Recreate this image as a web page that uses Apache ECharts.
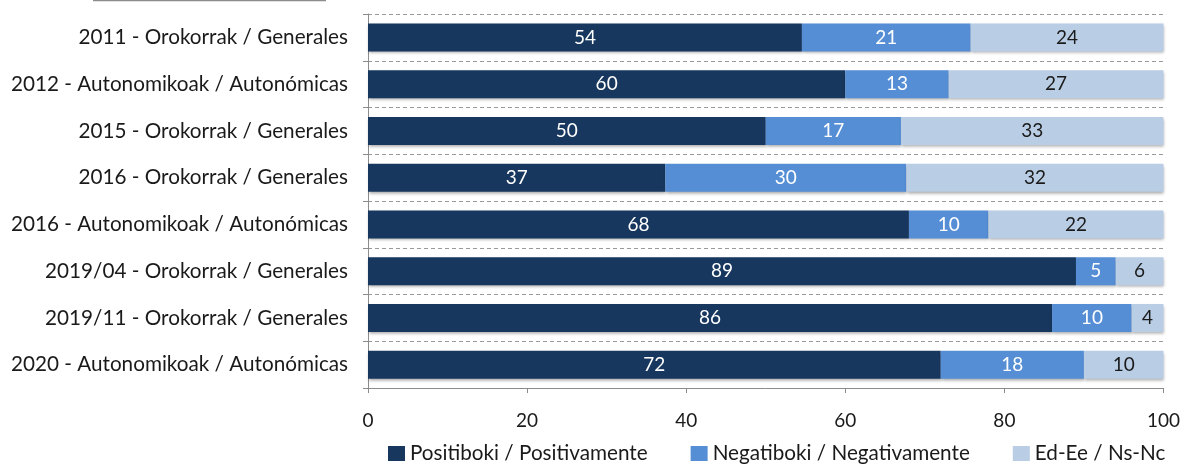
<!DOCTYPE html>
<html>
<head>
<meta charset="utf-8">
<script src="https://cdn.jsdelivr.net/npm/echarts@6/dist/echarts.min.js"></script>
<style>
html,body{margin:0;padding:0;background:#fff;}
#chart{width:1183px;height:469px;}
</style>
</head>
<body>
<div id="chart"></div>
<script>
const categories = [
  "2011 - Orokorrak / Generales",
  "2012 - Autonomikoak / Autonómicas",
  "2015 - Orokorrak / Generales",
  "2016 - Orokorrak / Generales",
  "2016 - Autonomikoak / Autonómicas",
  "2019/04 - Orokorrak / Generales",
  "2019/11 - Orokorrak / Generales",
  "2020 - Autonomikoak / Autonómicas"
];
const seriesNames = ["Positiboki / Positivamente", "Negatiboki / Negativamente", "Ed-Ee / Ns-Nc"];
const positive = [54, 60, 50, 37, 68, 89, 86, 72];
const negative = [21, 13, 17, 30, 10, 5, 10, 18];
const dontKnow = [24, 27, 33, 32, 22, 6, 4, 10];
const xTicks = [0, 20, 40, 60, 80, 100];

const colors = ["#17375E", "#558ED5", "#B9CDE5"];
const labelColors = ["#ffffff", "#ffffff", "#1a1a1a"];
const FONT = "Lato";

// 100% stacked: each row is scaled to its own total
const totals = categories.map((_, i) => positive[i] + negative[i] + dontKnow[i]);
const dataSets = [positive, negative, dontKnow];

const chart = echarts.init(document.getElementById('chart'));
const series = dataSets.map((d, i) => ({
  name: seriesNames[i],
  type: 'bar',
  stack: 'total',
  barWidth: 28,
  data: d.map((v, j) => ({ value: v / totals[j] * 100, raw: v })),
  itemStyle: {
    color: colors[i],
    shadowColor: 'rgba(0,0,0,0.35)',
    shadowBlur: 3,
    shadowOffsetX: 1,
    shadowOffsetY: 2
  },
  label: {
    show: true,
    position: 'inside',
    color: labelColors[i],
    fontFamily: FONT,
    fontSize: 19,
    formatter: p => p.data.raw
  }
}));

chart.setOption({
  animation: false,
  textStyle: { fontFamily: FONT },
  grid: { left: 368, right: 19, top: 14, bottom: 81, containLabel: false },
  legend: {
    bottom: 0,
    left: 383,
    itemWidth: 17,
    itemHeight: 15,
    itemGap: 43,
    icon: 'rect',
    textStyle: { fontFamily: FONT, fontSize: 20.7, color: '#1a1a1a' },
    data: seriesNames
  },
  xAxis: {
    type: 'value',
    min: 0,
    max: 100,
    interval: 20,
    axisLine: { show: true, lineStyle: { color: '#8c8c8c' } },
    axisTick: { show: true, length: 5, lineStyle: { color: '#8c8c8c' } },
    splitLine: { show: false },
    axisLabel: {
      fontFamily: FONT, fontSize: 19, color: '#1a1a1a', margin: 23,
      customValues: xTicks
    }
  },
  yAxis: {
    type: 'category',
    inverse: true,
    data: categories,
    axisLine: { show: true, lineStyle: { color: '#8c8c8c' } },
    axisTick: { show: true, length: 5, lineStyle: { color: '#8c8c8c' } },
    splitLine: { show: true, lineStyle: { type: [4, 3], color: '#9a9a9a', width: 1 } },
    axisLabel: { fontFamily: FONT, fontSize: 20.7, color: '#1a1a1a', margin: 20 }
  },
  graphic: [{
    type: 'line',
    shape: { x1: 93, y1: 0.5, x2: 326, y2: 0.5 },
    style: { stroke: '#8c8c8c', lineWidth: 1.5 }
  }],
  series: series
});
</script>
</body>
</html>
